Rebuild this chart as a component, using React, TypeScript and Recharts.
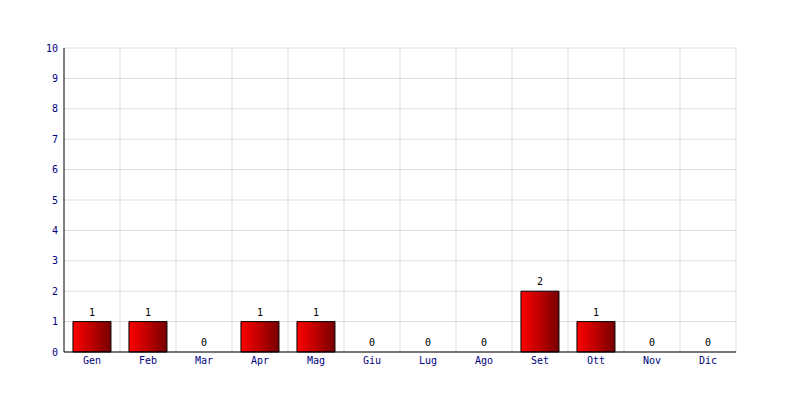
import React from 'react';
import { ComposedChart, Bar, Line, XAxis, YAxis, CartesianGrid, LabelList } from 'recharts';

const months = ['Gen', 'Feb', 'Mar', 'Apr', 'Mag', 'Giu', 'Lug', 'Ago', 'Set', 'Ott', 'Nov', 'Dic'];
const counts = [1, 1, 0, 1, 1, 0, 0, 0, 2, 1, 0, 0];
const yTicks = [0, 1, 2, 3, 4, 5, 6, 7, 8, 9, 10];

const data = months.map((m, i) => ({ month: m, value: counts[i] }));

const FONT = '"DejaVu Sans Mono", monospace';

export default function App() {
  return (
    <div style={{ position: 'absolute', left: 0, top: 0, width: 800, height: 400, background: '#fff' }}>
      <ComposedChart
        width={800}
        height={400}
        data={data}
        margin={{ top: 48, right: 64, bottom: 0, left: 0 }}
        barCategoryGap="16%"
      >
        <defs>
          <linearGradient id="barGrad" x1="0" y1="0" x2="1" y2="0">
            <stop offset="0%" stopColor="#ff0000" />
            <stop offset="100%" stopColor="#780000" />
          </linearGradient>
        </defs>
        <CartesianGrid
          stroke="#dddddd"
          verticalCoordinatesGenerator={({ offset }: any) =>
            months.map((_, i) => offset.left + (offset.width * (i + 1)) / months.length)
          }
        />
        <XAxis
          dataKey="month"
          height={48}
          axisLine={{ stroke: '#000' }}
          tickLine={false}
          tickSize={3}
          tickMargin={2}
          interval={0}
          tick={{ fill: '#000080', fontSize: 10, fontFamily: FONT }}
        />
        <YAxis
          width={64}
          domain={[0, 10]}
          ticks={yTicks}
          interval={0}
          axisLine={{ stroke: '#000' }}
          tickLine={false}
          tickSize={4}
          tickMargin={2}
          tick={{ fill: '#000080', fontSize: 10, fontFamily: FONT }}
        />
        <Bar dataKey="value" fill="url(#barGrad)" stroke="#000" strokeWidth={1} isAnimationActive={false} />
        <Line
          dataKey="value"
          stroke="none"
          dot={false}
          activeDot={false}
          legendType="none"
          isAnimationActive={false}
        >
          <LabelList
            dataKey="value"
            position="top"
            offset={6}
            style={{ fill: '#000', fontSize: 10, fontFamily: FONT }}
          />
        </Line>
      </ComposedChart>
    </div>
  );
}
